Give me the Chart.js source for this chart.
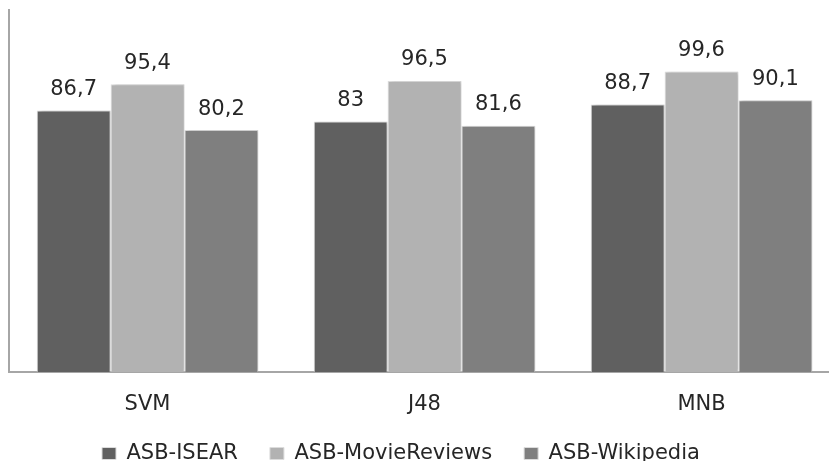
<!DOCTYPE html>
<html>
<head>
<meta charset="utf-8">
<script src="https://cdn.jsdelivr.net/npm/chart.js@4"></script>
<style>
  html, body { margin: 0; padding: 0; background: #fff; overflow: hidden; }
  #wrap { width: 840px; height: 461px; }
</style>
</head>
<body>
<div id="wrap"><canvas id="chart"></canvas></div>
<script>
// Chart data
const categories = ['SVM', 'J48', 'MNB'];
const isear = [86.7, 83, 88.7];
const movieReviews = [95.4, 96.5, 99.6];
const wikipedia = [80.2, 81.6, 90.1];
const seriesNames = ['ASB-ISEAR', 'ASB-MovieReviews', 'ASB-Wikipedia'];

const textColor = '#262626';
const fontFamily = '"DejaVu Sans", Verdana, sans-serif';

// Value labels above each bar (comma decimal)
const valueLabels = {
    id: 'valueLabels',
    afterDatasetsDraw(chart) {
        const ctx = chart.ctx;
        ctx.save();
        ctx.font = '21px ' + fontFamily;
        ctx.fillStyle = textColor;
        ctx.textAlign = 'center';
        ctx.textBaseline = 'middle';
        chart.data.datasets.forEach((ds, i) => {
            chart.getDatasetMeta(i).data.forEach((bar, j) => {
                const txt = String(ds.data[j]).replace('.', ',');
                ctx.fillText(txt, bar.x, bar.y - 21);
            });
        });
        ctx.restore();
    }
};

// Soft shadow on the right of the bars
const barShadow = {
    id: 'barShadow',
    beforeDatasetDraw(chart) {
        const ctx = chart.ctx;
        ctx.save();
        ctx.shadowColor = 'rgba(0, 0, 0, 0.18)';
        ctx.shadowBlur = 3;
        ctx.shadowOffsetX = 3;
        ctx.shadowOffsetY = 0;
    },
    afterDatasetDraw(chart) {
        chart.ctx.restore();
    }
};

// Legend takes no layout room, then gets placed under the axis labels
const legendPlacer = {
    id: 'legendPlacer',
    beforeUpdate(chart) {
        const legend = chart.legend;
        if (legend && !legend._patched) {
            const fit = legend.fit;
            legend.fit = function() {
                fit.call(this);
                this.height = 0;
            };
            legend._patched = true;
        }
    },
    afterLayout(chart) {
        const legend = chart.legend;
        legend.left = 70;
        legend.right = 840;
        legend.top = 411;
        legend.bottom = 461;
    }
};

function makeSet(label, data, color) {
    return {
        label: label,
        data: data,
        backgroundColor: color,
        borderColor: '#dcdcdc',
        borderWidth: 1,
        categoryPercentage: 0.8,
        barPercentage: 1.0
    };
}

new Chart(document.getElementById('chart'), {
    type: 'bar',
    data: {
        labels: categories,
        datasets: [
            makeSet(seriesNames[0], isear, '#606060'),
            makeSet(seriesNames[1], movieReviews, '#b2b2b2'),
            makeSet(seriesNames[2], wikipedia, '#7f7f7f')
        ]
    },
    options: {
        responsive: true,
        maintainAspectRatio: false,
        animation: false,
        layout: { padding: { top: 10, left: 9, right: 0, bottom: 0 } },
        plugins: {
            tooltip: { enabled: false },
            legend: {
                position: 'bottom',
                align: 'start',
                labels: {
                    boxWidth: 14,
                    boxHeight: 12,
                    padding: 32,
                    color: textColor,
                    font: { family: fontFamily, size: 21 }
                }
            }
        },
        scales: {
            x: {
                grid: { display: false, drawTicks: false },
                border: { display: true, color: '#a6a6a6', width: 2 },
                ticks: {
                    color: textColor,
                    padding: 20,
                    font: { family: fontFamily, size: 21 }
                },
                afterFit(scale) {
                    scale.height = 89;
                }
            },
            y: {
                min: 0,
                max: 120,
                grid: { display: false, drawTicks: false },
                border: { display: true, color: '#a6a6a6', width: 2 },
                ticks: { display: false }
            }
        }
    },
    plugins: [valueLabels, barShadow, legendPlacer]
});
</script>
</body>
</html>
